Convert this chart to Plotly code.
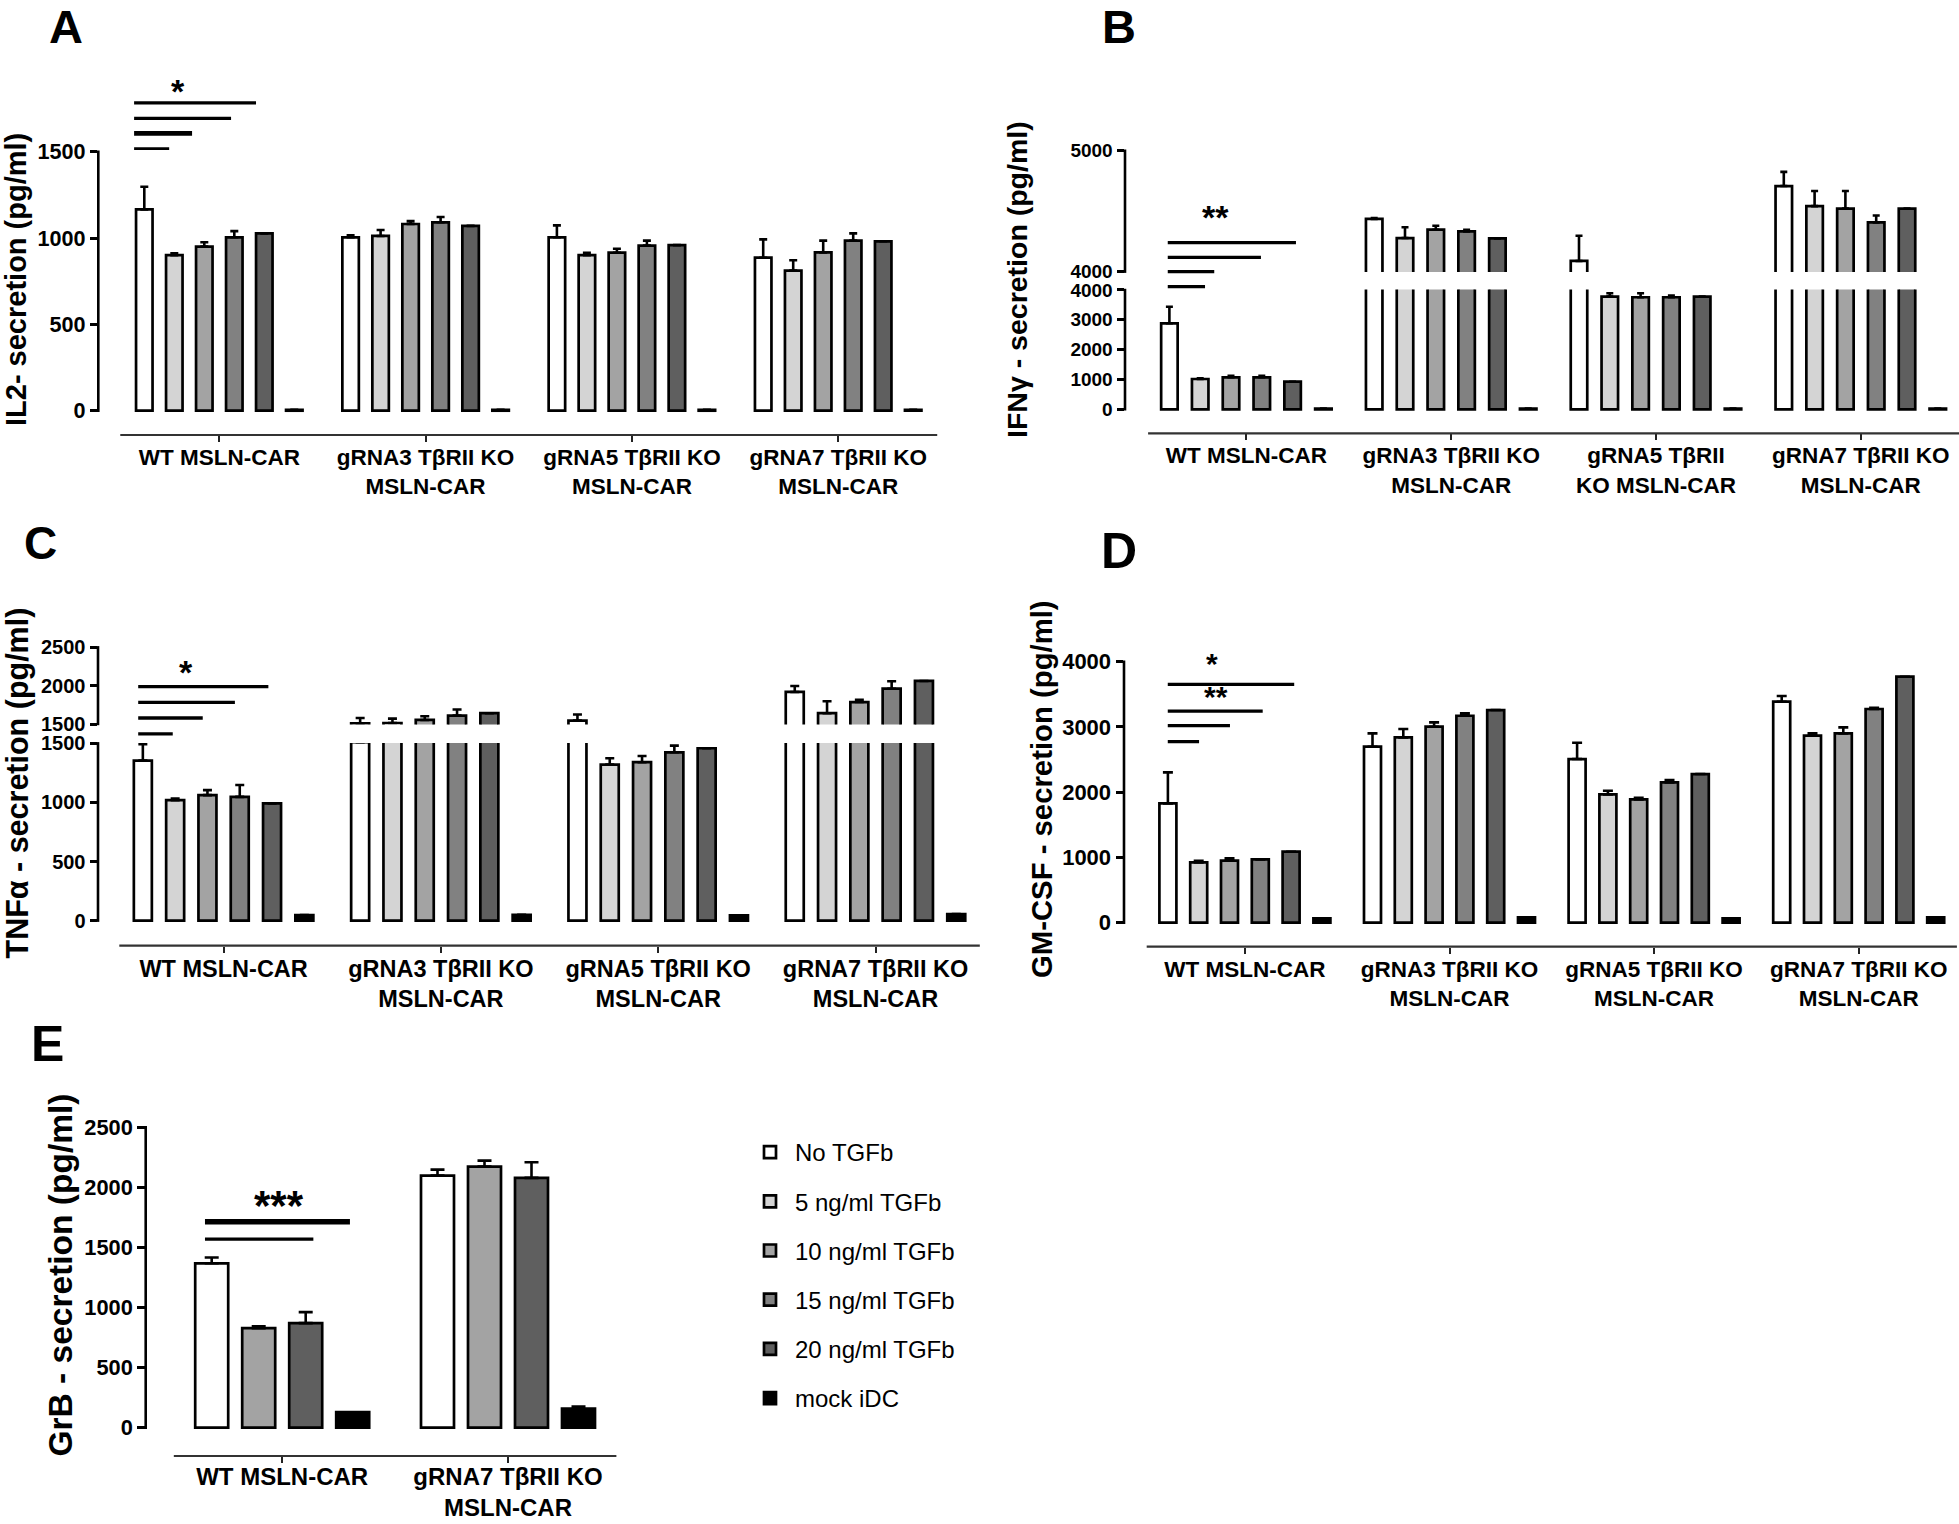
import plotly.graph_objects as go

W, H = 1959, 1524
FONT = "Arial, 'Liberation Sans', Helvetica, sans-serif"

# ------------------------------------------------------------------ data
SERIES = ["No TGFb", "5 ng/ml TGFb", "10 ng/ml TGFb", "15 ng/ml TGFb", "20 ng/ml TGFb", "mock iDC"]
FILLS = ["#ffffff", "#d4d4d4", "#a3a3a3", "#818181", "#5f5f5f", "#000000"]

CATS = ["WT MSLN-CAR", "gRNA3 TβRII KO<br>MSLN-CAR", "gRNA5 TβRII KO<br>MSLN-CAR", "gRNA7 TβRII KO<br>MSLN-CAR"]
CATS_IFNG = ["WT MSLN-CAR", "gRNA3 TβRII KO<br>MSLN-CAR", "gRNA5 TβRII<br>KO MSLN-CAR", "gRNA7 TβRII KO<br>MSLN-CAR"]
CATS_GRB = ["WT MSLN-CAR", "gRNA7 TβRII KO<br>MSLN-CAR"]
SERIES_GRB = ["No TGFb", "10 ng/ml TGFb", "20 ng/ml TGFb", "mock iDC"]

IL2_MEAN = [
    [1166, 1004, 1004, 886],
    [901, 1012, 901, 811],
    [950, 1081, 915, 917],
    [1004, 1091, 956, 985],
    [1027, 1070, 959, 981],
    [5, 5, 5, 5],
]
IL2_SD = [
    [131, 11, 69, 106],
    [10, 34, 14, 60],
    [25, 17, 23, 68],
    [36, 31, 29, 42],
    [0, 0, 0, 0],
    [0, 0, 0, 0],
]
IFNG_MEAN = [
    [2883, 4436, 4089, 4708],
    [1016, 4278, 3778, 4542],
    [1072, 4347, 3756, 4522],
    [1072, 4333, 3756, 4408],
    [926, 4275, 3778, 4522],
    [25, 25, 25, 25],
]
IFNG_SD = [
    [557, 8, 208, 117],
    [20, 89, 111, 125],
    [50, 33, 133, 145],
    [50, 14, 55, 56],
    [0, 0, 0, 0],
    [0, 0, 0, 0],
]
TNFA_MEAN = [
    [1354, 1509, 1544, 1918],
    [1019, 1513, 1320, 1641],
    [1062, 1553, 1340, 1786],
    [1047, 1610, 1424, 1960],
    [992, 1641, 1458, 2061],
    [47, 50, 45, 56],
]
TNFA_SD = [
    [138, 70, 79, 78],
    [14, 57, 54, 156],
    [42, 48, 53, 29],
    [100, 79, 56, 97],
    [0, 0, 0, 0],
    [0, 0, 0, 0],
]
GMCSF_MEAN = [
    [1829, 2697, 2508, 3387],
    [925, 2840, 1967, 2866],
    [950, 3004, 1890, 2902],
    [971, 3172, 2151, 3275],
    [1088, 3259, 2278, 3770],
    [66, 82, 66, 82],
]
GMCSF_SD = [
    [475, 205, 251, 87],
    [25, 128, 56, 36],
    [36, 66, 26, 92],
    [0, 36, 35, 20],
    [0, 0, 0, 0],
    [0, 0, 0, 0],
]
GRB_MEAN = [
    [1368, 2098],
    [829, 2173],
    [870, 2079],
    [129, 158],
]
GRB_SD = [
    [48, 50],
    [14, 50],
    [92, 130],
    [0, 19],
]

Y_TITLES = {
    "A": "IL2- secretion (pg/ml)",
    "B": "IFNγ - secretion (pg/ml)",
    "C": "TNFα - secretion (pg/ml)",
    "D": "GM-CSF - secretion (pg/ml)",
    "E": "GrB - secretion (pg/ml)",
}

# ------------------------------------------------------------------ layout geometry (pixels)
def seg(v0, p0, k, ax, ticks, bottom=None, top=None):
    return dict(v0=v0, p0=p0, k=k, ax=ax, ticks=ticks, bottom=bottom, top=top)

PANELS = [
    dict(key="A", cats=CATS, series=SERIES, fills=FILLS, mean=IL2_MEAN, sd=IL2_SD,
         c0=219.3, pitch=206.3, left=98.3, xend=3.48, xline=435.0,
         bar_pitch=30.0, bar_w=16.5, cap=4, tickfs=21.6, catfs=22.5, std=-4,
         segs=[seg(0, 410.7, 0.1727, (0, 1500), [0, 500, 1000, 1500], bottom=435.0, top=55)],
         title=(16, 280, 29), letter=(66, 26.5, 47),
         sig_seg=0,
         sig=[(-0.413, -0.243, 1517, 2.8), (-0.413, -0.132, 1606, 4.6),
              (-0.413, 0.057, 1693, 3.3), (-0.413, 0.178, 1783, 3.3)],
         stars=[("*", -0.200, 1876, 34)]),
    dict(key="B", cats=CATS_IFNG, series=SERIES, fills=FILLS, mean=IFNG_MEAN, sd=IFNG_SD,
         c0=1246.4, pitch=204.8, left=1125.0, xend=3.48, xline=433.3,
         bar_pitch=30.8, bar_w=16.5, cap=3.5, tickfs=19, catfs=22.5, std=-4,
         segs=[seg(0, 409.3, 0.02983, (0, 4000), [0, 1000, 2000, 3000, 4000], bottom=433.3),
               seg(4000, 271.7, 0.121, (4000, 5000), [4000, 5000], top=110)],
         title=(1017, 280, 28.5), letter=(1119, 27, 47),
         sig_seg=1,
         sig=[(-0.384, -0.202, 3876, 3.3), (-0.384, -0.157, 4000, 3.3),
              (-0.384, 0.071, 4119, 3.3), (-0.384, 0.242, 4240, 3.3)],
         stars=[("**", -0.153, 4483, 34)]),
    dict(key="C", cats=CATS, series=SERIES, fills=FILLS, mean=TNFA_MEAN, sd=TNFA_SD,
         c0=223.6, pitch=217.3, left=98.0, xend=3.48, xline=945.7,
         bar_pitch=32.3, bar_w=18.0, cap=4.5, tickfs=20, catfs=23.5, std=-4,
         segs=[seg(0, 920.7, 0.11827, (0, 1500), [0, 500, 1000, 1500], bottom=945.7),
               seg(1500, 724.0, 0.0767, (1500, 2500), [1500, 2000, 2500], top=620)],
         title=(17, 783.5, 30.5), letter=(40, 543, 46),
         sig_seg=1,
         sig=[(-0.393, -0.234, 1370, 3.3), (-0.393, -0.096, 1578, 3.3),
              (-0.393, 0.052, 1783, 3.3), (-0.393, 0.206, 1986, 3.3)],
         stars=[("*", -0.173, 2226, 34)]),
    dict(key="D", cats=CATS, series=SERIES, fills=FILLS, mean=GMCSF_MEAN, sd=GMCSF_SD,
         c0=1244.9, pitch=204.6, left=1124.0, xend=3.48, xline=946.7,
         bar_pitch=30.8, bar_w=17.0, cap=5, tickfs=22, catfs=22.5, std=-4,
         segs=[seg(0, 922.7, 0.06525, (0, 4000), [0, 1000, 2000, 3000, 4000], bottom=946.7, top=625)],
         title=(1041, 789, 29.3), letter=(1119, 551, 50),
         sig_seg=0,
         sig=[(-0.377, -0.224, 2774, 3.3), (-0.377, -0.073, 3019, 3.3),
              (-0.377, 0.087, 3244, 3.3), (-0.377, 0.241, 3654, 3.3)],
         stars=[("*", -0.159, 4026, 30), ("**", -0.143, 3516, 30)]),
    dict(key="E", cats=CATS_GRB, series=SERIES_GRB, fills=["#ffffff", "#a3a3a3", "#5f5f5f", "#000000"],
         mean=GRB_MEAN, sd=GRB_SD,
         c0=282.2, pitch=225.8, left=145.7, xend=1.48, xline=1456.0,
         bar_pitch=47.0, bar_w=33.0, cap=7, tickfs=21.8, catfs=24, std=-7,
         segs=[seg(0, 1427.7, 0.12016, (0, 2500), [0, 500, 1000, 1500, 2000, 2500], bottom=1456.0, top=1100)],
         title=(60, 1275.5, 33.5), letter=(47, 1044, 50),
         sig_seg=0,
         sig=[(-0.342, 0.138, 1570, 3.3), (-0.342, 0.300, 1714, 5.3)],
         stars=[("***", -0.013, 1889, 42)]),
]


def px2x(px):
    return px / W


def px2y(py):
    return 1 - py / H


def val2py(s, v):
    return s["p0"] - (v - s["v0"]) * s["k"]


fig = go.Figure()
layout = dict(
    width=W, height=H, autosize=False,
    margin=dict(l=0, r=0, t=0, b=0, pad=0),
    paper_bgcolor="white", plot_bgcolor="white",
    barmode="overlay", showlegend=True,
    font=dict(family=FONT, color="black"),
)
shapes = []
annotations = []

ax_n = 0
for P in PANELS:
    cat2px = lambda c, P=P: P["c0"] + c * P["pitch"]
    right = min(cat2px(P["xend"]), W)
    xr = [(P["left"] - P["c0"]) / P["pitch"], (right - P["c0"]) / P["pitch"]]
    n = len(P["series"])
    bp = P["bar_pitch"] / P["pitch"]
    bw = P["bar_w"] / P["pitch"]
    lower_id = None
    nseg = len(P["segs"])
    for si, S in enumerate(P["segs"]):
        ax_n += 1
        xid = "x" if ax_n == 1 else f"x{ax_n}"
        yid = "y" if ax_n == 1 else f"y{ax_n}"
        xkey = "xaxis" if ax_n == 1 else f"xaxis{ax_n}"
        ykey = "yaxis" if ax_n == 1 else f"yaxis{ax_n}"
        bottom = S["bottom"] if S["bottom"] is not None else val2py(S, S["ax"][0]) + 0.4
        top = S["top"] if S["top"] is not None else val2py(S, S["ax"][1]) - 0.4
        r0 = S["v0"] + (S["p0"] - bottom) / S["k"]
        r1 = S["v0"] + (S["p0"] - top) / S["k"]
        is_lower = si == 0
        if is_lower:
            lower_id = xid
        layout[xkey] = dict(
            domain=[px2x(P["left"]), px2x(right)], range=xr, type="category",
            categoryorder="array", categoryarray=P["cats"], anchor=yid,
            showgrid=False, zeroline=False, showline=False,
            ticks="outside" if is_lower else "", ticklen=6, tickwidth=2.2, tickcolor="#222",
            showticklabels=is_lower, ticklabelstandoff=P["std"],
            tickfont=dict(family=FONT, size=P["catfs"], color="black", weight="bold"),
            fixedrange=True, automargin=False,
        )
        if not is_lower:
            layout[xkey]["matches"] = lower_id
        layout[ykey] = dict(
            domain=[px2y(bottom), px2y(top)], range=[r0, r1], anchor=xid,
            showgrid=False, zeroline=False, showline=False,
            ticks="outside", ticklen=7.5, tickwidth=2.5, tickcolor="black",
            tickmode="array", tickvals=S["ticks"], ticktext=[str(t) for t in S["ticks"]],
            tickfont=dict(family=FONT, size=P["tickfs"], color="black", weight="bold"),
            fixedrange=True, automargin=False,
        )
        # y-axis line only across the labelled span
        shapes.append(dict(type="line", xref="paper", yref="paper",
                           x0=px2x(P["left"]), x1=px2x(P["left"]),
                           y0=px2y(val2py(S, S["ax"][0]) + 1.2), y1=px2y(val2py(S, S["ax"][1]) - 1.2),
                           line=dict(color="black", width=2.6)))
        # only show error bars for bars whose top lies in this axis segment
        lo_ok = S["ax"][0] if si > 0 else float("-inf")
        hi_ok = S["ax"][1] if si < nseg - 1 else float("inf")
        for i in range(n):
            off = (i - (n - 1) / 2) * bp - bw / 2
            err = [e if lo_ok <= m <= hi_ok else None for m, e in zip(P["mean"][i], P["sd"][i])]
            errm = [0 if e is not None else None for e in err]
            fig.add_trace(go.Bar(
                x=P["cats"], y=P["mean"][i], name=P["series"][i],
                offset=off, width=bw,
                marker=dict(color=P["fills"][i], line=dict(color="black", width=2.7)),
                error_y=dict(type="data", symmetric=False, array=err,
                             arrayminus=errm, color="black",
                             thickness=2.6, width=P["cap"]),
                xaxis=xid, yaxis=yid,
                legendgroup=P["series"][i],
                showlegend=(P["key"] == "A"),
                hoverinfo="skip",
            ))
    # x-axis baseline
    shapes.append(dict(type="line", xref="paper", yref="paper",
                       x0=px2x(cat2px(-0.48)), x1=px2x(right),
                       y0=px2y(P["xline"]), y1=px2y(P["xline"]),
                       line=dict(color="#333", width=2.2)))
    # significance bars
    S = P["segs"][P["sig_seg"]]
    for (c0_, c1_, v, lw) in P["sig"]:
        yy = px2y(val2py(S, v))
        shapes.append(dict(type="line", xref="paper", yref="paper",
                           x0=px2x(cat2px(c0_)), x1=px2x(cat2px(c1_)), y0=yy, y1=yy,
                           line=dict(color="black", width=lw)))
    for (txt, c, v, fs) in P["stars"]:
        annotations.append(dict(text=txt, xref="paper", yref="paper",
                                x=px2x(cat2px(c)), y=px2y(val2py(S, v)), yshift=-0.12 * fs,
                                showarrow=False, xanchor="center", yanchor="middle",
                                font=dict(family=FONT, size=fs, color="black", weight="bold")))
    # y-axis title
    tx, ty, tfs = P["title"]
    annotations.append(dict(text=Y_TITLES[P["key"]], xref="paper", yref="paper",
                            x=px2x(tx), y=px2y(ty), textangle=-90, showarrow=False,
                            xanchor="center", yanchor="middle",
                            font=dict(family=FONT, size=tfs, color="black", weight="bold")))
    # panel letter
    lx, ly, lfs = P["letter"]
    annotations.append(dict(text=P["key"], xref="paper", yref="paper",
                            x=px2x(lx), y=px2y(ly), showarrow=False,
                            xanchor="center", yanchor="middle",
                            font=dict(family=FONT, size=lfs, color="black", weight="bold")))

layout["shapes"] = shapes
layout["annotations"] = annotations
layout["legend"] = dict(
    x=px2x(745), y=px2y(1130), xanchor="left", yanchor="top",
    font=dict(family=FONT, size=24, color="black"),
    tracegroupgap=15, itemwidth=40, bgcolor="rgba(0,0,0,0)", borderwidth=0,
    traceorder="grouped", itemclick=False, itemdoubleclick=False,
)
fig.update_layout(**layout)
fig.write_html(
    "out.html",
    config={"displayModeBar": False, "responsive": False},
    post_script="document.body.style.margin='0px';document.body.style.overflow='hidden';",
)
